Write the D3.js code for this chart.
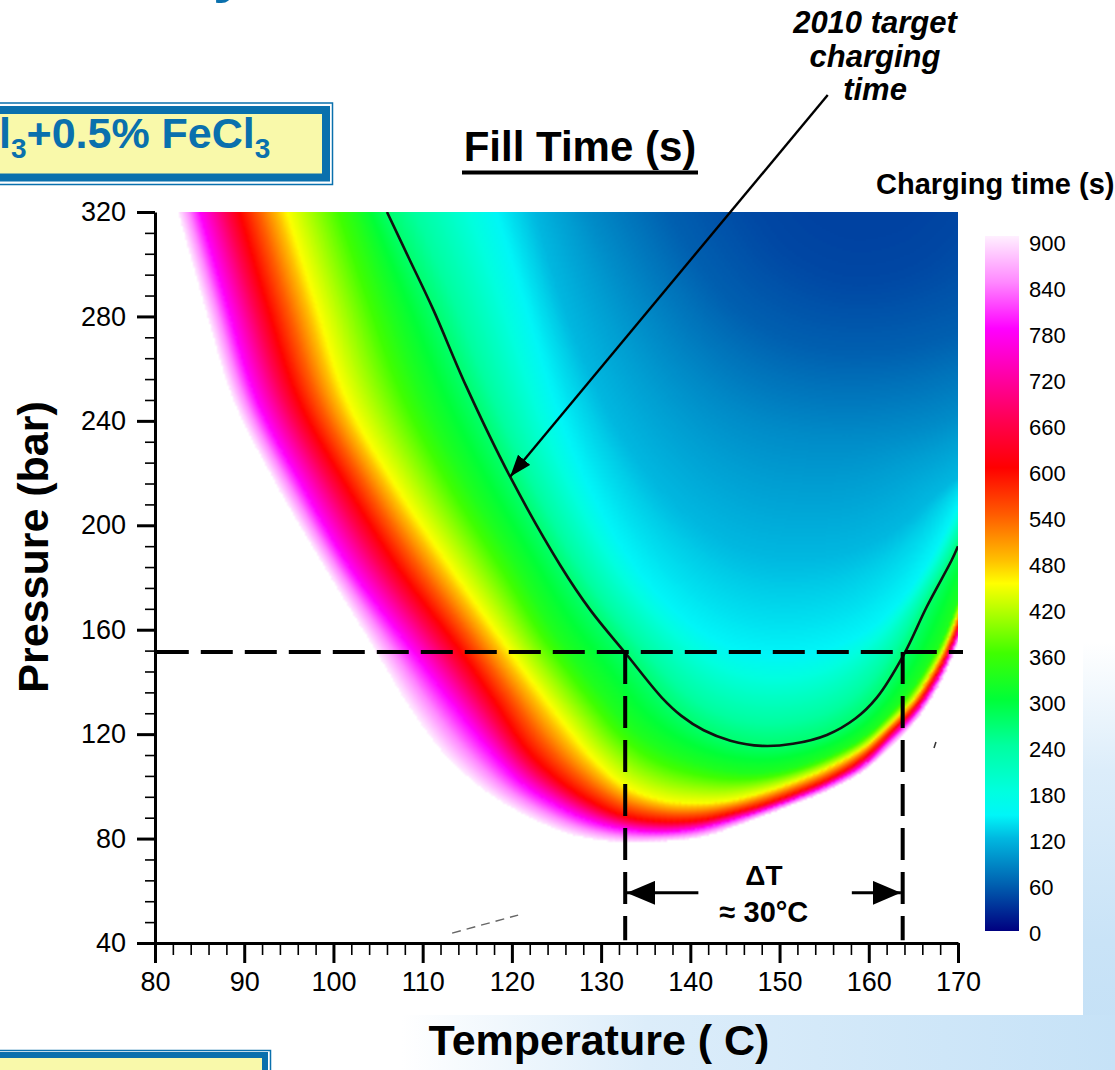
<!DOCTYPE html>
<html>
<head>
<meta charset="utf-8">
<script src="https://cdn.jsdelivr.net/npm/d3@7/dist/d3.min.js"></script>
<style>
  html, body { margin: 0; padding: 0; background: #fff; }
  svg { display: block; font-family: Arial, "Liberation Sans", Helvetica, sans-serif; }
</style>
</head>
<body>
<svg id="chart" width="1115" height="1070"></svg>
<script>
// ---------------- data ----------------
const tempDomain = [80, 170];          // °C
const pressDomain = [40, 320];         // bar
const tempTicks = [80, 90, 100, 110, 120, 130, 140, 150, 160, 170];
const pressTicks = [40, 80, 120, 160, 200, 240, 280, 320];
const colorbarTicks = [0, 60, 120, 180, 240, 300, 360, 420, 480, 540, 600, 660, 720, 780, 840, 900];

// colour ramp of the charging-time map (s)
const rampValues = [0, 60, 120, 150, 180, 240, 300, 360, 420, 450, 480, 540, 600, 660, 720, 780, 840, 900];
const rampColors = ["#000080", "#0060b0", "#00b8e0", "#00f6f8", "#00ffe0", "#00ffa0", "#00ff38", "#40ff00",
                    "#c0ff00", "#ffff00", "#ffc000", "#ff5a00", "#ff0000", "#ff0050", "#ff00a8", "#ff00ff",
                    "#ff88ff", "#fff0ff"];

// isochrones of charging time: [temperature °C, pressure bar]
const iso900 = [[82.6,320],[85.5,285],[88.8,248],[93.7,215],[99,184],[104.8,151.6],[109,128],[113.1,110],[118,96],
                [124.3,84.5],[128,80.5],[132.7,78.5],[137,79],[141.1,80.5],[144.5,84],[147.8,88.2],[151.5,93],
                [155.7,98.8],[159.5,106],[162.7,116],[165,124],[166.9,133],[168.5,143],[170,155]];
const iso780 = [[85,320],[88,285],[91.4,248],[96.5,215],[101.8,184],[108.9,151.6],[113,133],[117.2,115],[121,101.5],
                [125.4,92],[129,86.5],[132.7,83.5],[137,82.5],[141.1,84],[144.5,87],[147.8,90.5],[151.5,95],
                [155.7,101],[159.5,108.5],[162.7,119],[165,127],[166.9,136],[168.5,146],[170,157.5]];
const iso600 = [[89.5,320],[92.5,285],[96.1,248],[101.5,215],[107.2,184],[114.2,152],[118,133],[121.7,114],
                [125.4,102],[129,94],[132.7,88.5],[137,86.5],[141.1,87],[144.5,89.5],[147.8,92.5],[151.5,97],
                [155.7,103],[159.5,111],[162.7,121.5],[165,129.5],[166.9,139],[168.5,149],[170,161]];
const iso450 = [[94.8,320],[98,285],[101.5,248],[107,215],[112.9,185],[119.8,151.6],[122.5,139],[125.4,126],
                [129,111],[132.7,100],[137,94.5],[141.1,93.5],[144.5,94.5],[147.8,97.3],[151.5,101.5],
                [155.7,107.5],[159.5,115],[162.7,125],[165,133],[166.9,143],[168.5,153],[170,166]];
const iso330 = [[102.5,320],[106,285],[110,248],[115,215],[120.5,184],[124.5,160],[127.5,146],[130.5,133],
                [133,123],[137,113.5],[141.1,108],[144.5,105.5],[147.8,105],[151.5,107],[155.7,112],[159.5,119],
                [162.7,129],[165,138],[166.9,148],[168.5,158],[170,171]];
// 2010 target charging time contour
const targetContour = [[106,320],[108.5,302],[111.2,282.5],[114.9,253.1],[119.8,218.6],[125.4,184.8],[128.8,167.5],
                [132.9,150.3],[136.8,134],[139,127],[141.5,121.5],[144.5,117.5],[148,115.5],[151.5,116.3],
                [155.3,119.7],[158.5,126],[160.9,134],[163.9,150.3],[166.5,168.8],[169.3,186.7],[170,192]];
const iso150 = [[118.3,320],[121.8,282],[125.4,242],[128.5,216],[132.5,191],[136.6,173],[141,160],[145,153],
                [148.5,150.5],[152,150.5],[156,153.5],[160,160],[163.5,171],[166.5,185],[168.5,197],[170,207]];
const iso120 = [[122.5,320],[126,281],[129.5,252],[133,230],[137,212],[141,200],[145,192],[149,188],[153,187.5],
                [157,189],[161,194],[164.5,202],[167,210],[170,218]];
const iso90  = [[128.5,320],[133,290],[138,263],[143,247],[148,238],[153,234],[158,233],[163,235],[167,238],[170,242]];
const iso60  = [[137.5,320],[141,299],[145,283],[150,272],[155,267],[160,266],[165,268],[170,273]];
const iso45  = [[147,320],[150,306],[154,297],[158,293],[162,294],[166,299],[169,307],[170,311]];
const targetLevel = 270;

// operating window at the target contour
const windowPressure = 151.5;
const windowTemps = [132.7, 163.8];
const deltaArrowP = 59.2;
const deltaArrowShafts = [[140.9, 132.9], [158.1, 163.6]];

// callout arrow for the target contour
const calloutTail = [155.4, 364.8];
const calloutTip = [119.8, 218.6];

// small stray marks on the figure
const strayDash = [[113.3, 43.8], [120.7, 50.7]];
const strayTick = [[167.31, 114.7], [167.53, 117.0]];

// ---------------- setup ----------------
const svg = d3.select("#chart");
const defs = svg.append("defs");
const FONT = "Arial, 'Liberation Sans', Helvetica, sans-serif";

const x = d3.scaleLinear().domain(tempDomain).range([155, 958]);
const y = d3.scaleLinear().domain(pressDomain).range([943, 212]);
const color = d3.scaleLinear().domain(rampValues).range(rampColors)
  .interpolate(d3.interpolateRgb).clamp(true);

const isochrones = [
  { level: 900, pts: iso900 }, { level: 780, pts: iso780 }, { level: 600, pts: iso600 },
  { level: 450, pts: iso450 }, { level: 330, pts: iso330 }, { level: targetLevel, pts: targetContour },
  { level: 150, pts: iso150 }, { level: 120, pts: iso120 }, { level: 90, pts: iso90 },
  { level: 60, pts: iso60 }, { level: 45, pts: iso45 }
];

// ---------------- slide background ----------------
svg.append("rect").attr("width", 1115).attr("height", 1070).attr("fill", "#ffffff");
const gRight = defs.append("linearGradient").attr("id", "slideRight")
  .attr("x1", 0).attr("y1", 0).attr("x2", 0).attr("y2", 1);
[[0, "#ffffff"], [0.6, "#ffffff"], [0.72, "#dcedfa"], [0.88, "#c9e3f7"], [1, "#c3e0f6"]]
  .forEach(([o, c]) => gRight.append("stop").attr("offset", o).attr("stop-color", c));
const gBottom = defs.append("linearGradient").attr("id", "slideBottom")
  .attr("x1", 0).attr("y1", 0).attr("x2", 1).attr("y2", 0);
[[0, "#ffffff"], [0.36, "#ffffff"], [0.58, "#dcedfa"], [1, "#c6e2f7"]]
  .forEach(([o, c]) => gBottom.append("stop").attr("offset", o).attr("stop-color", c));
svg.append("rect").attr("x", 1083).attr("y", 0).attr("width", 32).attr("height", 1070).attr("fill", "url(#slideRight)");
svg.append("rect").attr("x", 0).attr("y", 1015).attr("width", 1115).attr("height", 55).attr("fill", "url(#slideBottom)");

// slide title (mostly above the visible area)
svg.append("text").attr("x", 213).attr("y", -9).attr("font-family", FONT).attr("font-weight", "bold")
  .attr("font-size", 60).attr("fill", "#0a70ad").text("y");

// ---------------- charging-time field ----------------
const px0 = x.range()[0], px1 = x.range()[1], py0 = y.range()[1], py1 = y.range()[0];
const RES = 2;
const gw = Math.ceil((px1 - px0) / RES), gh = Math.ceil((py1 - py0) / RES);

const contourLine = d3.line().x(d => x(d[0])).y(d => y(d[1])).curve(d3.curveCatmullRom.alpha(0.5));
const probe = svg.append("path").attr("fill", "none").attr("visibility", "hidden");
function samplePath(pts, step) {
  probe.attr("d", contourLine(pts));
  const node = probe.node();
  const L = node.getTotalLength();
  const out = [];
  for (let s = 0; s < L; s += step) { const q = node.getPointAtLength(s); out.push([q.x, q.y]); }
  const q = node.getPointAtLength(L); out.push([q.x, q.y]);
  return out;
}
function columnCrossing(dense) {
  const arr = new Float64Array(gw);
  let k = 0;
  for (let i = 0; i < gw; i++) {
    const px = px0 + (i + 0.5) * RES;
    if (px < dense[0][0]) { arr[i] = -Infinity; continue; }
    while (k < dense.length - 2 && dense[k + 1][0] < px) k++;
    const a = dense[k], b = dense[k + 1];
    let t = b[0] === a[0] ? 0 : (px - a[0]) / (b[0] - a[0]);
    t = Math.max(0, Math.min(1, t));
    arr[i] = a[1] + (b[1] - a[1]) * t;
  }
  return arr;
}
function extendedFlat(pts) {
  const n = pts.length, EXT = 160, ST = 3;
  const a = pts[0], b = pts[Math.min(4, n - 1)];
  let dx = a[0] - b[0], dy = a[1] - b[1], l = Math.hypot(dx, dy) || 1;
  const out = [];
  for (let s = EXT; s > 0; s -= ST) out.push(a[0] + dx / l * s, a[1] + dy / l * s);
  pts.forEach(p => out.push(p[0], p[1]));
  const c = pts[n - 1], e = pts[Math.max(0, n - 5)];
  dx = c[0] - e[0]; dy = c[1] - e[1]; l = Math.hypot(dx, dy) || 1;
  for (let s = ST; s <= EXT; s += ST) out.push(c[0] + dx / l * s, c[1] + dy / l * s);
  return Float64Array.from(out);
}
const curves = isochrones.map(iso => {
  const dense = samplePath(iso.pts, 1);
  return { level: iso.level, cross: columnCrossing(dense), flat: extendedFlat(samplePath(iso.pts, 3)) };
});
probe.remove();

function minDist(flat, px, py) {
  let m = Infinity;
  for (let t = 0; t < flat.length; t += 2) {
    const dx = flat[t] - px, dy = flat[t + 1] - py;
    const d = dx * dx + dy * dy;
    if (d < m) m = d;
  }
  return Math.sqrt(m);
}

const lut = new Uint8ClampedArray(901 * 3);
for (let v = 0; v <= 900; v++) {
  const c = d3.rgb(color(v));
  lut[v * 3] = c.r; lut[v * 3 + 1] = c.g; lut[v * 3 + 2] = c.b;
}

const canvas = document.createElement("canvas");
canvas.width = gw; canvas.height = gh;
const ctx = canvas.getContext("2d");
const img = ctx.createImageData(gw, gh);
const nC = curves.length;
for (let j = 0; j < gh; j++) {
  const py = py0 + (j + 0.5) * RES;
  for (let i = 0; i < gw; i++) {
    const px = px0 + (i + 0.5) * RES;
    let k = 0;
    while (k < nC && py < curves[k].cross[i]) k++;
    const o = (j * gw + i) * 4;
    if (k === 0) { img.data[o] = 255; img.data[o + 1] = 255; img.data[o + 2] = 255; img.data[o + 3] = 255; continue; }
    let v;
    if (k === nC) {
      const d = minDist(curves[nC - 1].flat, px, py);
      v = curves[nC - 1].level - Math.min(4, d * 0.08);
    } else {
      const a = curves[k - 1], b = curves[k];
      const d1 = minDist(a.flat, px, py), d2 = minDist(b.flat, px, py);
      v = a.level + (b.level - a.level) * d1 / (d1 + d2 || 1);
    }
    const idx = Math.round(Math.max(0, Math.min(900, v))) * 3;
    img.data[o] = lut[idx]; img.data[o + 1] = lut[idx + 1]; img.data[o + 2] = lut[idx + 2]; img.data[o + 3] = 255;
  }
}
ctx.putImageData(img, 0, 0);

defs.append("clipPath").attr("id", "plotClip").append("rect")
  .attr("x", px0).attr("y", py0).attr("width", px1 - px0).attr("height", py1 - py0);
svg.append("image").attr("href", canvas.toDataURL())
  .attr("x", px0).attr("y", py0).attr("width", gw * RES).attr("height", gh * RES)
  .attr("preserveAspectRatio", "none").attr("clip-path", "url(#plotClip)");

// target charging-time contour
svg.append("path").attr("d", contourLine(targetContour)).attr("fill", "none")
  .attr("stroke", "#111").attr("stroke-width", 2.6).attr("clip-path", "url(#plotClip)");

// stray marks
svg.append("line").attr("x1", x(strayDash[0][0])).attr("y1", y(strayDash[0][1]))
  .attr("x2", x(strayDash[1][0])).attr("y2", y(strayDash[1][1]))
  .attr("stroke", "#666").attr("stroke-width", 1.4).attr("stroke-dasharray", "9 6");
svg.append("line").attr("x1", x(strayTick[0][0])).attr("y1", y(strayTick[0][1]))
  .attr("x2", x(strayTick[1][0])).attr("y2", y(strayTick[1][1]))
  .attr("stroke", "#333").attr("stroke-width", 1.5);

// ---------------- axes ----------------
function styleAxis(g, width) {
  g.attr("font-family", FONT).attr("font-size", 27);
  g.selectAll("line").attr("stroke", "#000").attr("stroke-width", width);
  g.select(".domain").attr("stroke", "#000").attr("stroke-width", 3);
}
const xMinor = d3.range(80, 171, 2).filter(v => v % 10 !== 0);
const yMinor = d3.range(40, 321, 8).filter(v => v % 40 !== 0);
const gxm = svg.append("g").attr("transform", `translate(0,${y(40)})`)
  .call(d3.axisBottom(x).tickValues(xMinor).tickSize(12).tickSizeOuter(0).tickFormat(""));
gxm.select(".domain").remove(); styleAxis(gxm, 1.6);
const gym = svg.append("g").attr("transform", `translate(${x(80)},0)`)
  .call(d3.axisLeft(y).tickValues(yMinor).tickSize(10).tickSizeOuter(0).tickFormat(""));
gym.select(".domain").remove(); styleAxis(gym, 1.6);
const gx = svg.append("g").attr("transform", `translate(0,${y(40)})`)
  .call(d3.axisBottom(x).tickValues(tempTicks).tickSize(20).tickSizeOuter(0).tickPadding(9).tickFormat(d3.format("d")));
styleAxis(gx, 3);
const gy = svg.append("g").attr("transform", `translate(${x(80)},0)`)
  .call(d3.axisLeft(y).tickValues(pressTicks).tickSize(18).tickSizeOuter(0).tickPadding(11).tickFormat(d3.format("d")));
styleAxis(gy, 3);

svg.append("text").attr("x", 599).attr("y", 1055).attr("text-anchor", "middle")
  .attr("font-family", FONT).attr("font-weight", "bold").attr("font-size", 43).text("Temperature ( C)");
svg.append("text").attr("transform", "translate(48,547) rotate(-90)").attr("text-anchor", "middle")
  .attr("font-family", FONT).attr("font-weight", "bold").attr("font-size", 43).text("Pressure (bar)");

// ---------------- operating window ----------------
const dashed = svg.append("g").attr("stroke", "#000").attr("stroke-width", 4).attr("fill", "none")
  .attr("stroke-dasharray", "32 12");
dashed.append("line").attr("x1", x(80.2)).attr("x2", x(170.56))
  .attr("y1", y(windowPressure)).attr("y2", y(windowPressure));
windowTemps.forEach(t => dashed.append("line").attr("x1", x(t)).attr("x2", x(t))
  .attr("y1", y(windowPressure)).attr("y2", y(41.1)));

defs.append("marker").attr("id", "headDelta").attr("viewBox", "0 0 28 24")
  .attr("refX", 28).attr("refY", 12).attr("markerWidth", 28).attr("markerHeight", 24)
  .attr("markerUnits", "userSpaceOnUse").attr("orient", "auto")
  .append("path").attr("d", "M0,0L28,12L0,24Z").attr("fill", "#000");
deltaArrowShafts.forEach(([from, to]) => svg.append("line")
  .attr("x1", x(from)).attr("x2", x(to)).attr("y1", y(deltaArrowP)).attr("y2", y(deltaArrowP))
  .attr("stroke", "#000").attr("stroke-width", 3).attr("marker-end", "url(#headDelta)"));
const midT = (windowTemps[0] + windowTemps[1]) / 2;
svg.append("text").attr("x", x(midT)).attr("y", y(deltaArrowP) - 8).attr("text-anchor", "middle")
  .attr("font-family", FONT).attr("font-weight", "bold").attr("font-size", 28).text("ΔT");
svg.append("text").attr("x", x(midT)).attr("y", y(deltaArrowP) + 29).attr("text-anchor", "middle")
  .attr("font-family", FONT).attr("font-weight", "bold").attr("font-size", 29).text("≈ 30°C");

// ---------------- callout ----------------
defs.append("marker").attr("id", "headTarget").attr("viewBox", "0 0 22 16")
  .attr("refX", 22).attr("refY", 8).attr("markerWidth", 22).attr("markerHeight", 16)
  .attr("markerUnits", "userSpaceOnUse").attr("orient", "auto")
  .append("path").attr("d", "M0,0L22,8L0,16Z").attr("fill", "#000");
svg.append("line").attr("x1", x(calloutTail[0])).attr("y1", y(calloutTail[1]))
  .attr("x2", x(calloutTip[0])).attr("y2", y(calloutTip[1]))
  .attr("stroke", "#000").attr("stroke-width", 2.4).attr("marker-end", "url(#headTarget)");
["2010 target", "charging", "time"].forEach((s, i) => svg.append("text")
  .attr("x", 875).attr("y", 33 + i * 33.5).attr("text-anchor", "middle")
  .attr("font-family", FONT).attr("font-weight", "bold").attr("font-style", "italic")
  .attr("font-size", 31).text(s));

// ---------------- titles ----------------
svg.append("text").attr("x", 580).attr("y", 161).attr("text-anchor", "middle")
  .attr("font-family", FONT).attr("font-weight", "bold").attr("font-size", 42).text("Fill Time (s)");
svg.append("rect").attr("x", 462).attr("y", 170.5).attr("width", 236).attr("height", 4).attr("fill", "#000");

// composition box
svg.append("rect").attr("x", -20).attr("y", 103).attr("width", 352.5).attr("height", 81.5)
  .attr("fill", "none").attr("stroke", "#0a70ad").attr("stroke-width", 1.5);
svg.append("rect").attr("x", -20).attr("y", 110).attr("width", 346).attr("height", 67.5)
  .attr("fill", "#f9f9aa").attr("stroke", "#0a70ad").attr("stroke-width", 8);
const comp = svg.append("text").attr("x", -1).attr("y", 148).attr("font-family", FONT)
  .attr("font-weight", "bold").attr("font-size", 43).attr("fill", "#0a70ad");
comp.append("tspan").text("l");
comp.append("tspan").attr("font-size", 28).attr("dy", 10).text("3");
comp.append("tspan").attr("dy", -10).text("+0.5% FeCl");
comp.append("tspan").attr("font-size", 28).attr("dy", 10).text("3");

// lower box
svg.append("rect").attr("x", -20).attr("y", 1050.5).attr("width", 290.5).attr("height", 100)
  .attr("fill", "none").attr("stroke", "#0a70ad").attr("stroke-width", 1.5);
svg.append("rect").attr("x", -20).attr("y", 1055).attr("width", 285).attr("height", 100)
  .attr("fill", "#f9f9aa").attr("stroke", "#0a70ad").attr("stroke-width", 6);

// ---------------- colour bar ----------------
const cb = d3.scaleLinear().domain([0, 900]).range([931, 236]);
const cbLabel = cb.copy().range([933, 243]);
const grad = defs.append("linearGradient").attr("id", "cbGrad")
  .attr("x1", 0).attr("y1", 1).attr("x2", 0).attr("y2", 0);
rampValues.forEach(v => grad.append("stop").attr("offset", v / 900).attr("stop-color", color(v)));
svg.append("rect").attr("x", 985).attr("y", cb(900)).attr("width", 34).attr("height", cb(0) - cb(900))
  .attr("fill", "url(#cbGrad)");
svg.append("g").selectAll("text").data(colorbarTicks).join("text")
  .attr("x", 1029).attr("y", d => cbLabel(d)).attr("dominant-baseline", "central")
  .attr("font-family", FONT).attr("font-size", 22).text(d => d);
svg.append("text").attr("x", 876).attr("y", 194).attr("font-family", FONT)
  .attr("font-weight", "bold").attr("font-size", 29).text("Charging time (s)");
</script>
</body>
</html>
